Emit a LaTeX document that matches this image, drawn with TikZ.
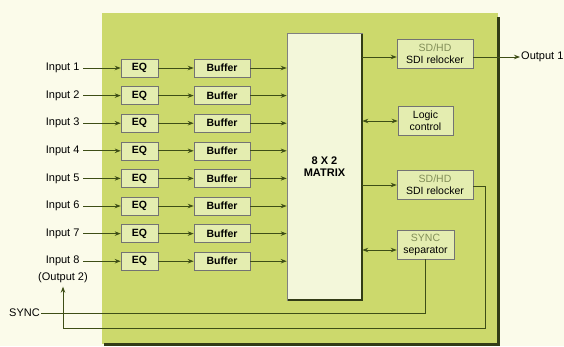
\documentclass[tikz,border=0pt]{standalone}
\usepackage{fontspec}
\setmainfont{Liberation Sans}
\usepackage{xcolor}
\usepackage{tikz}
\usetikzlibrary{positioning, arrows.meta, calc}
\definecolor{pageBg}{RGB}{251, 251, 234}
\definecolor{panelGreen}{RGB}{204, 217, 108}
\definecolor{panelEdge}{RGB}{50, 60, 22}
\definecolor{boxGreen}{RGB}{228, 237, 176}
\definecolor{matFill}{RGB}{243, 247, 218}
\definecolor{wireOlive}{RGB}{62, 78, 22}
\definecolor{fadeText}{RGB}{130, 142, 88}

\begin{document}
\begin{tikzpicture}[x=1pt, y=-1pt,
        font=\fontsize{11}{12}\selectfont,
        blk/.style={rectangle, draw=black!55, line width=0.6pt, fill=boxGreen, inner sep=0pt,
            minimum height=18pt, align=center, font=\fontsize{10.5}{11}\selectfont\bfseries},
        side/.style={rectangle, draw=black!55, line width=0.6pt, fill=boxGreen, inner sep=0pt,
            minimum height=29pt, align=center, font=\fontsize{10.5}{12}\selectfont},
        arr/.style={-{Stealth[length=6pt, width=4.5pt]}, line width=0.9pt, wireOlive},
        dbl/.style={{Stealth[length=6pt, width=4.5pt]}-{Stealth[length=6pt, width=4.5pt]}, line width=0.9pt, wireOlive},
        wire/.style={line width=0.9pt, wireOlive}
    ]
    \useasboundingbox[fill=pageBg] (0,0) rectangle (564,346);
    % green panel
    \fill[panelGreen] (102,13) rectangle (498,344);
    \draw[panelEdge, line width=3pt] (498.5,17) -- (498.5,344.5) -- (104,344.5);

    \node[rectangle, fill=matFill, draw=black!50, line width=0.6pt, minimum width=75pt, minimum height=267pt,
        inner sep=0pt, align=center, font=\fontsize{11}{12.5}\selectfont\bfseries] (mtx) at (324.5,166.5) {8 X 2\\MATRIX};
    \draw[panelEdge, line width=1.2pt] (362,34) -- (362,300) -- (288,300);

    % input rows
    \foreach \i in {1,...,8} {
        \pgfmathsetmacro{\yy}{68+27.6*(\i-1)}
        \node[anchor=east] (in\i) at (83,\yy) {Input \i};
        \node[blk, minimum width=37pt] (eq\i) at (139.5,\yy) {EQ};
        \node[blk, minimum width=56pt] (buf\i) at (222,\yy) {Buffer};
        \draw[arr] (in\i) -- (eq\i);
        \draw[arr] (eq\i) -- (buf\i);
        \draw[arr] (buf\i) -- (buf\i -| mtx.west);
    }
    \node (out2) at (63,278) {(Output 2)};

    % right hand blocks
    \node[side, minimum width=76pt] (rel1) at (435,54) {\textcolor{fadeText}{SD/HD}\\SDI relocker};
    \node[side, minimum width=55pt] (logic) at (425.5,121) {Logic\\control};
    \node[side, minimum width=76pt] (rel2) at (435,185) {\textcolor{fadeText}{SD/HD}\\SDI relocker};
    \node[side, minimum width=57pt] (syncsep) at (425.5,244.5) {\textcolor{fadeText}{SYNC}\\separator};
    \node[anchor=west, inner sep=1pt] (out1) at (520,57) {Output 1};
    \node[anchor=east, inner sep=1pt] (sync) at (41,313) {SYNC};
    \coordinate (r2turn) at (485,186);
    \coordinate (botturn) at (485,328);

    \draw[arr] (mtx.east |- 0,57) -- (rel1.west |- 0,57);
    \draw[dbl] (mtx.east |- logic) -- (logic.west);
    \draw[arr] (mtx.east |- rel2) -- (rel2.west);
    \draw[dbl] (mtx.east |- 0,250) -- (syncsep.west |- 0,250);
    \draw[arr] (rel1.east |- out1) -- (out1);
    \draw[wire] (sync) -- (syncsep.south |- sync) -- (syncsep.south);
    \draw[arr] (rel2.east |- r2turn) -- (r2turn) -- (botturn) -- (out2.south |- botturn) -- (out2.south);
\end{tikzpicture}
\end{document}
